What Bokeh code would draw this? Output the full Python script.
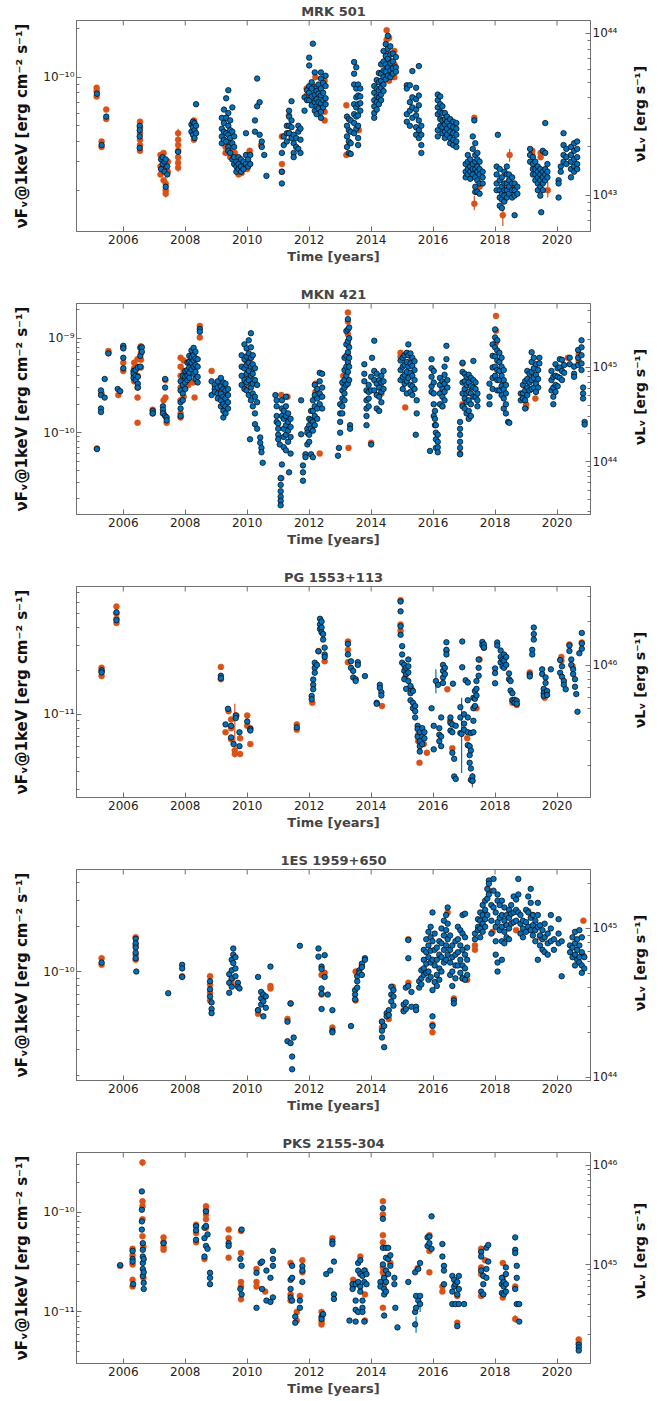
import math

from bokeh.core.properties import value
from bokeh.embed import file_html
from bokeh.layouts import column, row
from bokeh.models import (ColumnDataSource, CustomJSTickFormatter, FixedTicker,
                          LogAxis, LogScale, Range1d)
from bokeh.plotting import figure
from bokeh.resources import INLINE

# ---------------------------------------------------------------------------
# Swift-XRT style light curves: nuF_nu at 1 keV versus time.
# Each list holds (year, [fluxes]) groups; fluxes are in the unit noted.
# ---------------------------------------------------------------------------
YEAR_TICKS = [2006, 2008, 2010, 2012, 2014, 2016, 2018, 2020]
YEAR_RANGE = (2004.49, 2021.08)

# ---- MRK 501, flux in 1e-11 erg cm^-2 s^-1 ----
mrk501_unit = 1e-11
mrk501_blue = [
    (2005.15, [7.9]), (2005.30, [3.8]), (2005.45, [5.7]),
    (2006.53, [5.0, 4.7, 4.3, 3.65]),
    (2007.22, [3.1, 2.7]), (2007.27, [3.2, 2.9]), (2007.33, [3.0, 2.6]),
    (2007.37, [3.1, 2.1]), (2007.42, [2.8, 2.5]), (2007.77, [3.45]),
    (2008.20, [5.1, 4.6]), (2008.25, [5.3, 4.9, 4.4]), (2008.30, [5.2, 4.7, 4.2]),
    (2008.35, [6.8, 5.0, 4.5]),
    (2009.18, [5.6, 4.8, 4.3, 3.9]), (2009.25, [6.3, 5.2, 4.6, 4.1]),
    (2009.32, [7.4, 5.6, 4.5, 4.0]), (2009.39, [8.3, 6.0, 5.0, 4.4, 3.7, 3.5]),
    (2009.45, [5.4, 4.7, 4.2, 3.4]), (2009.52, [6.5, 4.6, 3.9, 3.1]),
    (2009.58, [4.3, 3.7, 3.2, 2.9]), (2009.65, [3.0, 2.8, 2.6]),
    (2009.72, [3.2, 2.9, 2.7]), (2009.80, [3.1, 2.8, 2.6]),
    (2009.88, [3.0, 2.7]), (2009.96, [4.5, 3.3, 2.9]),
    (2010.03, [3.1, 2.8]), (2010.10, [3.3, 2.9]),
    (2010.25, [5.4, 4.6]), (2010.32, [9.8, 6.6]), (2010.40, [7.0, 4.4]),
    (2010.47, [4.0, 3.7]), (2010.55, [3.3]), (2010.62, [2.45]),
    (2011.12, [3.4, 2.6, 2.2]), (2011.18, [4.3, 3.8]),
    (2011.28, [5.0, 4.5, 4.0]), (2011.35, [6.2, 5.7, 5.0, 4.5]),
    (2011.43, [7.1, 5.4, 4.9, 4.2]), (2011.50, [4.4, 3.9, 3.4, 3.2]),
    (2011.58, [4.2, 3.7]), (2011.65, [5.0, 4.6, 3.6]), (2011.72, [4.8, 4.1, 3.4]),
    (2011.85, [6.2, 7.5]), (2011.93, [8.3, 7.2]),
    (2012.00, [13.2, 11.8, 8.8, 8.0, 7.2]), (2012.08, [9.3, 8.5, 7.6, 6.7]),
    (2012.12, [16.1]), (2012.18, [10.7, 7.8, 7.0, 6.2]),
    (2012.24, [8.7, 8.2, 7.3, 6.6, 5.9]), (2012.30, [9.0, 7.9, 7.0, 6.4]),
    (2012.38, [10.7, 9.8, 8.5, 7.7, 6.9, 6.1, 5.6]),
    (2012.45, [9.2, 8.0, 7.2, 6.5]), (2012.53, [10.2, 8.8, 7.4, 6.8]),
    (2013.22, [5.7, 5.0, 4.3, 3.7]), (2013.28, [5.5, 4.7, 4.0, 3.4]),
    (2013.34, [5.4, 4.6, 3.9, 3.35]),
    (2013.45, [12.4, 10.5, 9.0, 6.8, 5.9, 5.2, 4.5]),
    (2013.52, [11.5, 8.5, 7.5, 6.5, 5.7, 4.8]),
    (2013.58, [9.0, 7.7, 6.8, 5.8, 5.0, 4.2, 3.8]),
    (2013.65, [8.5, 7.6, 6.9, 6.2]),
    (2014.10, [8.8, 8.0, 7.2, 6.6, 6.0, 5.6]),
    (2014.18, [9.6, 8.5, 7.6, 7.0, 6.3]),
    (2014.25, [10.6, 9.3, 8.3, 7.5, 6.8]),
    (2014.32, [12.0, 10.5, 9.5, 8.6, 7.8, 7.2]),
    (2014.40, [14.5, 12.5, 11.0, 10.0, 9.0, 8.2]),
    (2014.47, [16.0, 13.5, 12.0, 10.8, 9.7]),
    (2014.54, [18.0, 15.0, 13.0, 11.5, 10.2]),
    (2014.62, [15.5, 13.8, 12.2, 11.0, 10.0]),
    (2014.70, [14.0, 12.5, 11.3, 10.5]),
    (2014.80, [13.3, 11.5, 10.8]),
    (2015.15, [8.9, 8.5, 5.9, 5.3]), (2015.25, [8.9, 7.0, 6.2, 5.0]),
    (2015.33, [10.9, 7.5, 6.5, 5.6]), (2015.45, [8.6, 7.3, 6.3, 5.8, 4.9, 4.4]),
    (2015.54, [11.7, 7.7, 6.7, 5.4, 4.7, 4.2]), (2015.62, [5.0, 4.4, 3.8, 3.4]),
    (2016.15, [7.8, 7.2, 6.5, 5.9, 4.7, 4.3]), (2016.23, [7.6, 6.8, 6.1, 5.5, 5.0]),
    (2016.30, [6.6, 6.0, 5.4, 4.9, 4.5]), (2016.38, [6.0, 5.5, 5.1, 4.6, 4.2]),
    (2016.45, [5.7, 5.3, 4.8, 4.4]), (2016.55, [5.5, 5.0, 4.6, 4.2, 3.9]),
    (2016.65, [5.3, 4.9, 4.5, 4.1, 3.8]), (2016.75, [5.2, 4.8, 4.4, 4.0, 3.7]),
    (2017.05, [2.9, 2.6, 2.4]), (2017.12, [3.3, 3.0, 2.7, 2.5]),
    (2017.20, [3.1, 2.8, 2.6, 2.35]), (2017.28, [4.3, 3.6, 2.9, 2.7, 2.5]),
    (2017.33, [5.4]), (2017.36, [3.9, 3.3, 3.0, 2.7, 2.4, 2.1, 1.95]),
    (2017.43, [3.4, 3.1, 2.8, 2.6, 2.3, 1.95]), (2017.50, [3.0, 2.7, 2.5, 2.2, 1.9]),
    (2017.60, [2.6, 2.4, 2.2]),
    (2018.05, [2.8, 2.5, 2.2, 2.0]), (2018.09, [4.4]),
    (2018.15, [2.7, 2.3, 2.0, 1.8, 1.6]), (2018.22, [2.4, 2.1, 1.9, 1.75, 1.55]),
    (2018.30, [2.6, 2.2, 2.0, 1.85, 1.7]), (2018.38, [2.8, 2.5, 2.2, 2.0, 1.8]),
    (2018.45, [2.5, 2.3, 2.1, 1.9]), (2018.55, [2.4, 2.2, 2.0, 1.8]),
    (2018.63, [2.2, 2.0, 1.85, 1.4]), (2018.72, [2.1, 1.9]),
    (2019.13, [3.6, 3.3, 3.0]), (2019.22, [3.2, 2.9, 2.7, 2.5]),
    (2019.30, [3.0, 2.7, 2.5, 2.3]), (2019.38, [2.8, 2.6, 2.4, 2.2, 2.0]),
    (2019.46, [2.7, 2.5, 2.3, 2.1, 1.85]), (2019.49, [1.46]),
    (2019.54, [3.5, 2.6, 2.4, 2.2, 2.0]), (2019.62, [5.2, 3.4, 2.7, 2.5, 2.3]),
    (2019.69, [2.9, 2.6, 2.4]),
    (2020.05, [2.3, 2.2, 1.8]), (2020.12, [2.8, 2.6]),
    (2020.21, [4.5, 3.8, 3.3, 3.0]), (2020.30, [3.6, 3.2, 2.9]),
    (2020.45, [3.7, 3.3, 3.0, 2.7, 2.4]), (2020.55, [3.9, 3.5, 3.1, 2.8, 2.6]),
    (2020.65, [4.0, 3.6, 3.2, 2.9, 2.7]),
]
mrk501_orange = [
    (2005.14, [8.6, 8.2, 7.6]), (2005.30, [4.0, 3.7]), (2005.45, [6.3, 5.5]),
    (2006.54, [5.3, 4.9, 4.5, 4.1, 3.8, 3.5]),
    (2007.20, [3.3, 2.8, 2.5]), (2007.30, [3.4, 3.0, 2.7, 2.3]),
    (2007.37, [2.0, 1.9, 2.2]), (2007.44, [3.0, 2.6]),
    (2007.77, [4.5, 4.1, 3.8, 3.5, 3.2, 2.95, 2.75]),
    (2008.28, [5.4, 4.4, 4.1]),
    (2009.30, [4.0, 3.7, 3.4]), (2009.45, [3.9, 3.5, 3.2]), (2009.60, [3.4, 3.1, 2.9]),
    (2009.72, [2.6, 2.5]), (2009.82, [2.8, 2.55]), (2010.00, [3.3, 3.0, 2.7]),
    (2010.08, [3.5]), (2010.45, [3.8]),
    (2011.12, [4.3, 2.9, 2.6]), (2011.35, [5.8, 4.5]),
    (2011.92, [8.5, 7.7]), (2012.10, [8.9, 7.4]), (2012.20, [10.0, 8.2]),
    (2012.35, [6.5]), (2012.50, [9.5, 6.1, 5.4]),
    (2013.20, [6.7, 3.3]), (2013.60, [4.7]), (2014.20, [7.0]),
    (2014.50, [19.5, 17.0, 14.0, 11.5]), (2014.58, [17.5, 12.8, 9.5]),
    (2014.75, [14.5, 12.0, 10.0]),
    (2016.50, [5.0, 4.3]), (2016.70, [4.0, 3.9]),
    (2017.33, [5.6, 1.65]), (2017.50, [2.1]),
    (2018.25, [1.4, 2.0]), (2018.47, [3.3]), (2018.65, [2.1]),
    (2019.20, [3.3, 3.5]), (2019.47, [3.4, 3.2]), (2019.55, [2.3]), (2019.70, [2.0]),
]
mrk501_orange_bars = [(2018.25, 1.2, 1.65), (2007.37, 1.8, 2.4), (2017.33, 1.5, 1.85),
                      (2007.77, 2.6, 4.8), (2018.47, 3.0, 3.6), (2019.70, 1.8, 2.25)]

# ---- MKN 421, flux in 1e-10 erg cm^-2 s^-1 ----
mkn421_unit = 1e-10
mkn421_blue = [
    (2005.15, [0.67]), (2005.28, [2.8, 2.5, 1.8, 1.65]), (2005.40, [3.7, 2.35]),
    (2005.52, [6.9]), (2005.82, [2.9]), (2005.90, [2.75]),
    (2006.00, [8.3, 7.8, 6.2, 4.8]), (2006.33, [4.5, 4.2, 3.8]),
    (2006.40, [4.6, 4.0, 3.6]), (2006.47, [4.9, 3.9, 3.3, 3.0]),
    (2006.55, [7.9, 6.5, 5.0]), (2006.60, [8.0, 7.2]),
    (2006.95, [1.7, 1.6]), (2007.28, [1.9, 1.75, 1.6]), (2007.35, [3.7, 3.0, 1.5]),
    (2007.40, [1.45, 1.35]),
    (2007.85, [3.5, 2.8, 2.1, 1.8, 1.5]), (2007.92, [4.0, 3.2, 2.6, 2.2]),
    (2008.00, [4.5, 3.9, 3.4, 2.9]), (2008.07, [5.5, 4.6, 4.0, 3.6]),
    (2008.13, [6.5, 5.6, 4.9, 4.3, 3.8]), (2008.20, [7.4, 6.3, 5.5, 4.7]),
    (2008.27, [7.9, 6.6, 5.8, 5.0, 4.2]), (2008.33, [7.2, 6.1, 5.2, 4.4, 3.7]),
    (2008.40, [6.0, 5.0, 3.9, 3.4]), (2008.47, [12.5, 11.7]),
    (2008.85, [3.5, 2.5]), (2008.95, [3.2, 2.9, 2.7]), (2009.05, [3.5, 3.0, 2.6, 2.3]),
    (2009.15, [3.8, 3.1, 2.6, 2.2, 1.9]), (2009.23, [3.4, 2.9, 2.4, 2.0, 1.7, 1.45]),
    (2009.30, [3.3, 2.8, 2.3, 1.9, 1.6]), (2009.38, [2.9, 2.5, 2.1, 1.8]),
    (2009.82, [6.6, 5.0, 4.0, 3.2]), (2009.91, [8.6, 6.0, 4.8, 3.6, 2.9]),
    (2009.98, [7.8, 6.4, 5.2, 4.2, 3.4, 2.8]), (2010.05, [9.5, 6.9, 5.5, 4.5, 3.6, 2.5]),
    (2010.09, [0.85]), (2010.12, [11.3, 8.0, 6.2, 5.0, 4.0, 3.0, 2.2]),
    (2010.18, [6.6, 5.3, 4.2, 3.3, 2.6, 1.9]), (2010.25, [4.8, 3.6, 2.4, 1.6, 1.23]),
    (2010.32, [3.2, 2.1, 1.1]), (2010.42, [0.89, 0.78]), (2010.46, [0.69, 0.62]),
    (2010.50, [0.48]),
    (2010.91, [2.5]), (2010.95, [2.2, 1.9, 1.5, 1.3]), (2011.00, [1.25, 1.1, 0.95, 0.85]),
    (2011.05, [0.75]), (2011.08, [0.33, 0.28, 0.24, 0.21, 0.19, 0.17]),
    (2011.12, [2.2, 1.8, 1.5, 0.46]), (2011.18, [1.7, 1.4, 1.1, 0.9, 0.7]),
    (2011.25, [2.4, 1.9, 1.5, 1.2, 0.95, 0.65]), (2011.32, [1.6, 1.3, 1.05, 0.8]),
    (2011.35, [0.38]), (2011.40, [1.4, 1.15, 0.9, 0.6]),
    (2011.74, [2.2, 0.96]), (2011.80, [0.45, 0.38, 0.31]), (2011.88, [0.59, 0.55]),
    (2011.94, [0.75, 1.1, 1.0]), (2012.00, [1.4, 1.2, 0.95, 0.8]),
    (2012.06, [1.7, 1.35, 1.1, 0.59]), (2012.12, [2.2, 1.7, 1.3, 1.05, 0.55]),
    (2012.18, [3.2, 2.5, 1.9, 1.5, 1.2]), (2012.26, [2.9, 2.3, 1.8, 1.4]),
    (2012.34, [4.3, 3.5, 2.6, 2.0]), (2012.42, [4.2, 3.0, 2.4, 1.8]),
    (2012.93, [0.57]), (2012.96, [0.69]), (2013.00, [2.0, 1.6, 1.3, 1.0]),
    (2013.07, [3.4, 2.8, 2.3, 1.9, 1.6]), (2013.14, [6.2, 4.6, 3.6, 3.0, 2.6, 2.2]),
    (2013.20, [11.9, 8.6, 6.5, 5.0, 4.0, 3.2]), (2013.25, [15.9, 12.4, 9.3, 7.1, 5.6, 4.4, 3.3]),
    (2013.29, [13.0, 10.0, 8.0, 6.2, 5.0, 3.6]), (2013.32, [1.2, 1.1]),
    (2013.78, [5.3, 4.2, 3.5]), (2013.85, [2.8, 2.2, 1.8, 1.5, 1.2]),
    (2013.92, [3.2, 2.7, 2.3, 1.9]), (2014.00, [3.9, 2.8, 0.75]),
    (2014.03, [6.2]), (2014.10, [9.4, 4.5, 3.6, 2.8]),
    (2014.18, [4.2, 3.3, 2.5, 1.8]), (2014.26, [3.6, 3.0, 2.4, 1.7]),
    (2014.33, [4.0, 3.4, 2.7, 2.1]), (2014.40, [4.5, 3.5, 2.9]),
    (2014.95, [5.8, 4.6, 3.6]), (2015.02, [6.2, 5.0, 3.9, 2.9]),
    (2015.08, [6.6, 5.2, 4.1, 3.3]), (2015.15, [7.0, 5.6, 4.4, 3.5, 2.6]),
    (2015.20, [8.6, 6.6, 5.0, 3.8]), (2015.27, [6.9, 5.4, 4.3, 3.2, 2.7]),
    (2015.33, [6.2, 5.1, 4.0, 3.1, 2.5]), (2015.40, [5.7, 4.6, 3.6, 2.9]),
    (2015.44, [0.95]), (2015.47, [1.6, 2.2]),
    (2015.90, [0.64]), (2015.95, [6.0, 4.8, 3.9, 3.1, 2.7]),
    (2016.02, [4.5, 3.4, 2.6, 2.0, 1.5]), (2016.06, [1.7, 1.4, 1.2]),
    (2016.09, [1.2, 1.0, 0.85, 0.69]), (2016.15, [0.95, 0.8, 0.7, 0.62]),
    (2016.22, [3.8, 3.2, 2.6, 2.0]), (2016.30, [3.5, 2.9, 2.4, 1.9]),
    (2016.37, [5.0, 4.1, 3.3, 2.7, 2.2]), (2016.43, [8.3, 6.0]), (2016.46, [3.6, 3.0]),
    (2016.87, [1.3, 1.1, 0.95, 0.8, 0.69, 0.59]), (2016.95, [5.5, 4.4, 3.4, 2.6, 1.9]),
    (2017.02, [4.2, 3.5, 2.9, 2.3, 1.8]), (2017.08, [3.9, 3.2, 2.6, 2.1, 1.6]),
    (2017.15, [4.1, 3.4, 2.7, 2.2, 1.7, 1.4]), (2017.22, [3.8, 3.1, 2.6, 2.0, 1.5]),
    (2017.30, [5.75, 3.6, 3.0, 2.4]), (2017.37, [3.4, 2.9, 2.4]), (2017.43, [2.6, 2.2, 1.9]),
    (2017.82, [3.3, 2.4, 2.0]), (2017.92, [8.6, 6.5, 4.9, 3.8, 2.9]),
    (2018.00, [12.4, 10.2, 8.0, 6.4, 5.0, 4.0]), (2018.07, [9.5, 7.4, 5.8, 4.6, 3.6, 2.8]),
    (2018.14, [7.0, 5.6, 4.5, 3.6, 2.8]), (2018.21, [6.2, 5.0, 4.0, 3.1, 2.5]),
    (2018.28, [4.6, 3.6, 2.9, 2.3, 1.8]), (2018.35, [3.2, 2.6, 2.0, 1.6]),
    (2018.42, [1.3]), (2018.46, [1.27]),
    (2018.83, [2.6, 2.2]), (2018.90, [3.2, 2.6, 2.3]), (2018.97, [3.5, 2.8, 2.2, 1.8]),
    (2019.04, [4.5, 3.7, 3.0, 2.5]), (2019.11, [4.2, 3.4, 2.8]),
    (2019.18, [7.1, 5.6, 4.4, 3.6, 2.9]), (2019.25, [6.2, 4.8, 3.8, 3.0]),
    (2019.32, [5.3, 4.1, 3.3, 2.7]), (2019.39, [4.6, 3.7, 3.0]), (2019.43, [6.2, 5.4]),
    (2019.82, [4.5, 3.6, 2.8]), (2019.88, [3.9, 3.0, 2.4, 2.0]),
    (2019.95, [5.3, 4.0, 3.2, 2.7]), (2020.02, [4.8, 3.9, 3.1]),
    (2020.09, [6.0, 4.9, 3.8]), (2020.16, [5.9, 4.5, 3.6]), (2020.23, [5.2, 4.3]),
    (2020.41, [6.2, 5.3]), (2020.55, [5.0, 4.2, 3.9]), (2020.68, [7.5, 6.2, 5.2]),
    (2020.79, [9.5, 8.0, 6.6, 5.4, 4.6]), (2020.84, [3.0, 2.6, 2.3]), (2020.89, [1.3, 1.22]),
]
mkn421_orange = [
    (2005.15, [0.68]), (2005.30, [2.6]), (2005.52, [7.3, 7.0]),
    (2005.84, [2.5]), (2006.00, [8.0, 5.5, 4.5]),
    (2006.35, [5.5, 4.8, 4.0, 3.5]), (2006.46, [6.0, 5.0, 4.0, 3.0, 2.35, 1.27]),
    (2006.57, [8.2, 7.0, 5.9, 4.9]), (2006.95, [1.75, 1.6]), (2007.30, [2.2, 1.6]),
    (2007.36, [3.6, 2.35]), (2007.40, [1.27]),
    (2007.85, [6.2, 5.0, 4.0, 3.0, 2.2, 1.6, 1.45]), (2007.95, [5.8, 4.5, 3.5, 2.4]),
    (2008.10, [5.6, 4.4, 3.2]), (2008.25, [6.2, 4.6, 3.4]), (2008.30, [2.35]),
    (2008.47, [13.5, 10.2]),
    (2008.85, [4.5]), (2009.05, [3.2, 2.8]), (2009.25, [2.5, 2.2]),
    (2009.95, [5.8, 4.8, 3.9, 3.2]), (2010.12, [6.2, 4.5, 3.3]),
    (2011.10, [2.5, 0.33]), (2011.30, [2.4]),
    (2012.20, [3.3, 2.7]), (2012.34, [2.4, 0.6]),
    (2013.10, [4.0, 3.3]), (2013.25, [18.7, 15.0, 11.0, 8.5, 6.5, 5.0]),
    (2013.27, [0.69]), (2014.00, [0.78]), (2014.33, [3.0, 2.6]),
    (2014.95, [7.0, 6.4]), (2015.10, [1.85]), (2015.30, [5.9]),
    (2016.30, [2.7, 1.9]), (2016.87, [0.6]), (2016.95, [5.4, 2.0]),
    (2018.03, [17.2, 12.0, 9.0]), (2018.25, [3.2]),
    (2019.00, [1.85, 2.0]), (2019.30, [2.3]), (2020.35, [6.2]), (2020.70, [6.8, 5.7]),
]

# ---- PG 1553+113, flux in 1e-12 erg cm^-2 s^-1 ----
pg1553_unit = 1e-12
pg1553_blue = [
    (2005.30, [20.2, 19.5]), (2005.78, [51.0, 45.0]),
    (2009.15, [18.5, 17.8]), (2009.30, [8.5]), (2009.38, [10.9]),
    (2009.48, [8.3, 6.9]), (2009.56, [6.2]), (2009.63, [9.8, 9.4]),
    (2009.75, [7.5, 6.0]), (2010.00, [8.9]), (2010.10, [7.9, 7.7]),
    (2011.60, [8.1]),
    (2012.08, [13.4, 12.7]), (2012.13, [17.4, 16.0, 14.9]), (2012.18, [22.8, 21.0, 19.4]),
    (2012.25, [22.0]), (2012.30, [27.4]), (2012.35, [46.0, 42.0, 39.0]),
    (2012.40, [44.0, 40.0, 37.0]), (2012.45, [36.0, 33.0]), (2012.50, [29.0, 26.0, 25.0]),
    (2013.25, [30.8, 26.0]), (2013.35, [23.3, 21.0]), (2013.42, [20.0, 18.0]),
    (2013.50, [17.5, 17.0]), (2013.57, [23.0, 22.0]), (2013.80, [18.4]),
    (2014.18, [12.0, 11.8]), (2014.28, [16.0, 15.2]), (2014.33, [14.2, 13.5]),
    (2014.95, [60.6, 51.8, 40.8, 35.6]), (2015.00, [29.7, 26.0, 22.8]),
    (2015.07, [22.0, 20.0, 17.5]), (2015.13, [21.0, 19.0, 15.0]),
    (2015.20, [24.0, 21.5, 19.5, 17.0]), (2015.27, [15.7, 14.0, 12.5]),
    (2015.35, [14.5, 12.0, 11.0]), (2015.42, [11.4, 10.5, 9.5]),
    (2015.50, [8.3, 7.9, 7.0]), (2015.57, [7.5, 6.5, 6.0, 5.5]),
    (2015.65, [8.0, 7.0, 6.2]), (2015.72, [7.5, 6.8]),
    (2015.95, [11.0]), (2016.02, [8.3, 5.7]), (2016.09, [17.0]), (2016.16, [16.0]),
    (2016.20, [8.0, 7.2, 6.5]), (2016.26, [9.5, 7.0, 6.0]),
    (2016.32, [22.0, 20.0, 18.0, 16.5]), (2016.38, [21.0, 19.0]),
    (2016.43, [31.6, 28.0, 26.0]), (2016.56, [9.5, 8.7, 7.7]),
    (2016.62, [8.5, 7.5, 5.4]), (2016.64, [16.3]), (2016.68, [4.9, 3.7]),
    (2016.73, [8.3, 3.55]),
    (2016.88, [11.2, 9.5, 7.4]), (2016.92, [7.3]), (2016.94, [32.0, 21.2]),
    (2017.00, [10.0, 8.6, 7.8]), (2017.05, [17.2]), (2017.12, [16.6, 12.5, 9.5, 7.5, 6.1]),
    (2017.18, [6.0, 5.2, 4.6]), (2017.22, [7.4, 5.6, 4.2, 3.5]), (2017.27, [3.7, 3.45]),
    (2017.30, [13.0, 11.0, 9.0, 7.5]), (2017.35, [14.5, 12.8, 11.4]),
    (2017.40, [17.0, 15.0, 13.5]), (2017.47, [24.0, 21.0, 18.5]),
    (2017.59, [31.8, 30.2]), (2017.64, [30.5, 29.0]),
    (2018.00, [20.8, 19.3, 16.4]), (2018.07, [31.5, 30.0]),
    (2018.18, [27.7, 25.0, 22.9]), (2018.24, [24.0, 21.5]), (2018.29, [26.0, 23.5, 21.0]),
    (2018.36, [25.0, 22.0]), (2018.45, [19.2, 17.5]), (2018.50, [17.0, 14.6]),
    (2018.56, [14.0, 12.5]), (2018.63, [12.6, 12.0]), (2018.70, [12.4, 11.8]),
    (2019.12, [18.9, 18.3]), (2019.20, [28.0, 26.0]), (2019.25, [40.0, 36.0, 33.0]),
    (2019.52, [20.5, 19.0]), (2019.57, [15.0, 14.0, 13.4]), (2019.63, [18.0, 16.5]),
    (2019.68, [14.5, 13.6]), (2019.80, [20.5]),
    (2020.10, [23.8, 19.4]), (2020.16, [21.5, 18.2]), (2020.22, [17.0, 16.0]),
    (2020.28, [14.9]), (2020.40, [30.0, 27.5]), (2020.46, [24.0, 22.0]),
    (2020.52, [20.5, 19.0]), (2020.58, [17.5, 15.5]), (2020.62, [13.8]),
    (2020.66, [10.4]), (2020.72, [26.5]), (2020.80, [36.7, 31.0, 28.5]),
]
pg1553_orange = [
    (2005.30, [21.0, 19.8, 18.4]), (2005.78, [56.0, 50.0, 46.0, 43.0]),
    (2009.15, [21.3, 17.5]), (2009.30, [7.5]), (2009.40, [10.5]),
    (2009.48, [9.2, 8.0, 6.7]), (2009.60, [5.6, 5.3]), (2009.65, [9.8]),
    (2009.77, [6.8, 5.3]), (2010.00, [9.8, 8.3]), (2010.10, [8.0, 6.2]),
    (2011.60, [8.5, 7.8]), (2012.10, [12.0]), (2012.30, [27.4]), (2012.50, [23.3]),
    (2013.25, [32.0, 28.0, 23.0]), (2014.35, [11.4]),
    (2014.95, [62.0, 42.0, 38.0]), (2015.10, [21.0, 18.0]), (2015.30, [15.0]),
    (2015.52, [7.2, 6.5]), (2015.56, [4.6]), (2015.70, [6.2]), (2015.80, [5.4]),
    (2016.43, [27.6]), (2016.46, [14.9]), (2016.55, [9.0]), (2016.62, [5.8]),
    (2017.10, [6.8]), (2017.27, [3.45]), (2017.40, [11.0]), (2017.50, [24.0]),
    (2017.64, [29.0]), (2018.29, [24.0]), (2018.56, [12.5, 12.0]), (2018.70, [11.6]),
    (2019.12, [19.5]), (2019.60, [13.4, 13.0]), (2020.14, [25.0, 23.5]),
    (2020.40, [30.5]), (2020.50, [21.5]), (2020.80, [31.5]),
]
pg1553_blue_bars = [(2016.09, 14.0, 20.5), (2016.92, 3.9, 13.0), (2017.27, 3.2, 3.9)]
pg1553_orange_bars = [(2009.60, 5.0, 11.8), (2017.27, 3.1, 3.6)]

# ---- 1ES 1959+650, flux in 1e-11 erg cm^-2 s^-1 ----
es1959_unit = 1e-11
es1959_blue = [
    (2005.30, [11.5]), (2006.40, [16.6, 15.5, 14.5, 13.4, 12.3]), (2006.42, [10.0]),
    (2007.45, [7.15]), (2007.90, [11.1, 10.5, 9.2]),
    (2008.80, [8.6, 7.6, 6.8]), (2008.85, [6.2, 5.6, 5.25]),
    (2009.42, [9.6, 8.4, 7.2]), (2009.50, [12.0, 10.2, 9.0, 7.9]),
    (2009.55, [14.3, 13.0, 11.4]), (2009.62, [12.5, 10.5, 9.3]),
    (2009.70, [8.4, 7.9]), (2009.75, [7.7]),
    (2010.35, [9.2, 5.5]), (2010.45, [7.3, 6.6, 6.0]), (2010.52, [7.0, 6.3, 5.0]),
    (2010.60, [6.8, 5.7]), (2010.75, [10.8]),
    (2011.30, [4.6, 3.4]), (2011.40, [6.1, 3.3]), (2011.45, [2.68, 2.2]),
    (2011.50, [3.6]), (2011.70, [14.9]),
    (2012.30, [14.3, 12.6]), (2012.40, [10.8, 10.4, 7.7, 7.1, 5.6]),
    (2012.50, [12.9, 9.2]), (2012.60, [7.0]), (2012.75, [5.5, 4.0, 3.9]),
    (2013.35, [4.3]), (2013.48, [7.5, 7.0, 6.5]), (2013.55, [9.3, 8.6, 7.8]),
    (2013.62, [10.2, 9.8]), (2013.70, [11.3, 10.7, 9.5]), (2013.80, [12.3, 12.0]),
    (2014.35, [4.6, 4.0, 3.6]), (2014.42, [3.1, 4.3]), (2014.50, [5.25, 5.0]),
    (2014.57, [5.5, 5.1]), (2014.65, [7.9, 7.0, 6.3]), (2014.72, [7.5, 6.8, 5.9]),
    (2015.05, [6.0, 5.4]), (2015.12, [7.8, 6.2, 5.6]), (2015.20, [16.3, 12.3, 8.0]),
    (2015.30, [7.3, 5.8]), (2015.45, [5.8, 5.5]), (2015.55, [7.8, 8.6]),
    (2015.62, [10.2, 9.0, 8.2]), (2015.70, [14.0, 12.0, 10.5, 9.5]),
    (2015.78, [16.5, 13.5, 11.3, 9.8]), (2015.85, [18.5, 15.0, 12.5, 10.0, 8.8]),
    (2015.92, [20.0, 17.0, 13.8, 11.5, 9.2]), (2015.98, [25.0, 16.0, 12.0, 7.5, 5.0, 4.3]),
    (2016.05, [18.0, 14.0, 11.0, 8.5]), (2016.12, [14.5, 12.0, 9.5, 8.0]),
    (2016.20, [16.0, 13.0, 10.5, 8.8]), (2016.27, [19.5, 15.5, 12.5, 10.0]),
    (2016.35, [22.0, 17.5, 14.0, 11.5]), (2016.42, [24.0, 19.0, 15.0, 12.0]),
    (2016.47, [27.0, 21.0, 16.5, 13.0]), (2016.55, [17.5, 14.0, 11.5, 9.5]),
    (2016.62, [15.0, 12.5, 10.0, 8.0]), (2016.67, [6.4, 6.1]),
    (2016.72, [16.0, 13.0, 11.0, 9.0]), (2016.80, [20.0, 16.5, 13.5, 11.0]),
    (2016.88, [19.0, 15.0, 12.0, 9.8]), (2016.95, [24.0, 18.0, 14.0, 11.0, 9.0]),
    (2017.03, [24.5, 17.0, 13.0, 10.5, 8.8]), (2017.10, [14.5, 12.0, 9.5]),
    (2017.35, [16.5, 18.0]), (2017.45, [20.0, 22.5, 19.0]),
    (2017.52, [25.0, 22.0, 19.5, 17.0]), (2017.60, [28.0, 24.0, 21.0, 18.5]),
    (2017.68, [30.0, 26.0, 22.5, 20.0]), (2017.75, [36.0, 31.0, 24.0]),
    (2017.80, [41.0, 39.0, 33.0]), (2017.88, [28.0, 22.0, 18.0]),
    (2017.95, [42.0, 35.0, 27.0]), (2018.02, [25.0, 20.0, 16.0, 13.0]),
    (2018.08, [33.0, 30.0, 21.5, 11.5, 10.0]), (2018.15, [28.0, 23.0, 19.0]),
    (2018.22, [30.0, 24.0, 20.0, 16.0, 12.0]), (2018.30, [27.0, 22.0, 18.5, 15.5]),
    (2018.37, [24.0, 20.5, 17.0]), (2018.45, [26.0, 23.0, 19.5, 16.5]),
    (2018.52, [28.0, 24.5, 21.0]), (2018.60, [32.0, 25.0, 21.5]),
    (2018.68, [30.5, 26.0, 22.0]), (2018.75, [42.0, 33.0, 25.0]),
    (2018.82, [24.0, 21.0, 18.0]), (2018.90, [22.0, 19.5, 17.0]),
    (2019.00, [26.0, 21.5, 18.5]), (2019.07, [32.0, 25.0, 20.0]),
    (2019.15, [36.0, 29.0, 23.0, 19.0]), (2019.22, [24.0, 20.5, 17.5]),
    (2019.30, [22.0, 19.0, 16.0]), (2019.38, [29.0, 24.0, 20.0, 12.0]),
    (2019.45, [20.5, 17.5, 15.0]), (2019.53, [19.0, 16.5, 14.0]),
    (2019.60, [21.0, 17.0, 13.5]), (2019.70, [18.0, 15.5, 13.0]),
    (2019.80, [24.0, 19.5, 16.0]), (2019.90, [16.5, 14.0]),
    (2020.05, [22.5, 18.0, 15.5]), (2020.15, [16.0, 9.3]),
    (2020.42, [15.0, 13.5]), (2020.50, [17.0, 14.5, 12.5]),
    (2020.58, [18.5, 15.5, 13.0, 11.0]), (2020.65, [16.5, 14.0, 12.0]),
    (2020.72, [19.0, 15.0, 12.5, 11.5]), (2020.80, [17.0, 13.5, 11.0, 9.8]),
    (2020.88, [12.5, 10.5]),
]
es1959_orange = [
    (2005.30, [12.3, 11.1]), (2006.40, [17.0, 15.0, 13.0, 12.0]), (2007.90, [9.3]),
    (2008.80, [9.3, 8.2, 7.2, 6.4]), (2009.50, [8.8, 8.2]), (2010.35, [5.5, 5.2]),
    (2010.75, [8.0, 7.7]), (2011.30, [4.8]), (2011.40, [6.1]),
    (2012.40, [9.5, 7.0]), (2012.50, [9.8]), (2012.75, [4.2]), (2013.50, [6.4, 10.0]),
    (2013.70, [10.9]), (2014.35, [4.6, 4.2]), (2014.57, [4.8]), (2014.70, [7.9]),
    (2015.05, [5.5]), (2015.20, [16.5, 8.4]), (2015.98, [3.9, 4.4]),
    (2016.47, [25.0]), (2016.67, [6.6]), (2016.95, [9.0]), (2017.10, [8.8]),
    (2017.35, [15.0, 14.0]), (2017.80, [35.0]), (2017.92, [18.5]),
    (2018.68, [19.0]), (2019.07, [25.5]), (2019.22, [24.0]), (2019.45, [17.0]),
    (2020.85, [22.0, 12.8]),
]

# ---- PKS 2155-304, flux in 1e-11 erg cm^-2 s^-1 ----
pks2155_unit = 1e-11
pks2155_blue = [
    (2005.90, [2.95]), (2006.30, [4.1, 3.4, 3.2]), (2006.32, [1.9]),
    (2006.60, [16.2, 10.6, 8.1, 6.7]), (2006.63, [4.9, 4.2, 3.6, 3.1, 2.7, 2.3]),
    (2006.66, [1.96, 1.7, 3.4, 2.5]),
    (2007.30, [4.9]), (2008.35, [7.25, 6.6, 5.3]),
    (2008.62, [7.0, 5.5, 3.6]), (2008.67, [10.2, 7.3, 4.6]), (2008.72, [4.3, 6.0]),
    (2008.80, [2.47, 2.2, 1.9]),
    (2009.40, [4.9, 4.6]), (2009.78, [3.4, 1.7]), (2009.82, [6.7, 2.9, 1.5]),
    (2010.30, [2.47, 1.1]), (2010.43, [3.1]), (2010.48, [3.2, 1.7]),
    (2010.62, [2.6, 1.3]), (2010.75, [2.2, 1.26]), (2010.83, [4.1, 3.4, 2.9, 1.4]),
    (2011.40, [2.1, 1.7, 1.4]), (2011.45, [2.9, 2.2, 1.3]), (2011.55, [0.9, 0.78]),
    (2011.70, [1.3, 1.1]), (2011.78, [2.88, 2.6, 2.0]),
    (2012.40, [0.9, 0.85]), (2012.45, [0.95]), (2012.55, [2.4]), (2012.68, [2.6]),
    (2012.75, [5.1, 4.8]), (2012.80, [3.2, 1.5, 1.35]),
    (2013.30, [0.82]), (2013.40, [1.7, 1.9]), (2013.50, [1.9, 1.3, 1.05, 0.8]),
    (2013.58, [2.6, 3.1, 2.0, 1.0]), (2013.65, [3.3, 2.4, 1.8, 1.6]),
    (2013.72, [2.3, 1.3, 1.1, 1.0]), (2013.78, [2.6, 2.0, 0.8]), (2013.85, [2.4, 1.9]),
    (2014.30, [2.0, 1.8]), (2014.38, [11.0, 8.6, 4.4, 3.0]),
    (2014.42, [2.2, 1.7, 1.5, 0.92]), (2014.48, [4.4, 3.5, 2.6, 2.0, 1.6]),
    (2014.55, [4.4, 3.4, 2.4]), (2014.62, [3.7, 2.9]), (2014.75, [2.2, 1.9]),
    (2014.78, [1.1]), (2014.85, [0.7]),
    (2015.20, [2.0]), (2015.42, [2.5, 1.0, 0.75]), (2015.45, [1.45, 1.1]),
    (2015.52, [2.7, 1.3]), (2015.58, [3.1, 1.45, 1.2]),
    (2015.82, [4.6, 5.6]), (2015.88, [4.9, 5.7]), (2015.95, [9.1, 4.3]),
    (2016.30, [4.8, 3.6]), (2016.35, [2.9, 2.6, 1.9]),
    (2016.62, [1.6, 2.3, 1.2]), (2016.68, [2.1, 1.8]), (2016.72, [1.2, 1.9]),
    (2016.78, [2.0, 1.5, 0.72]), (2016.83, [2.3, 1.7, 1.2]), (2017.00, [1.2]),
    (2017.55, [4.0, 3.6, 2.6, 1.6]), (2017.62, [2.3, 1.9, 1.5]),
    (2017.72, [2.7, 2.2, 4.4]), (2017.78, [4.7, 3.2]),
    (2018.22, [2.2, 1.9, 1.55]), (2018.28, [2.0, 1.8, 1.5]),
    (2018.35, [2.8, 2.4, 1.9, 1.6]),
    (2018.65, [5.6, 4.2, 3.9, 1.7]), (2018.70, [2.9, 2.2, 1.2]),
    (2018.78, [1.2, 0.8]),
    (2020.70, [0.47, 0.44, 0.41]),
]
pks2155_orange = [
    (2005.90, [2.9]), (2006.30, [4.3, 3.7, 3.0, 2.1, 1.8]),
    (2006.62, [31.6, 12.9, 11.5, 8.5, 5.75]), (2006.65, [4.5, 2.2]),
    (2007.30, [5.6, 5.0, 4.5, 4.2]), (2008.35, [7.5, 6.2, 5.0]),
    (2008.67, [11.5, 10.5, 9.5, 8.5, 7.0]), (2008.62, [3.4]),
    (2009.40, [6.7, 5.5, 3.5]), (2009.80, [6.5, 3.9, 2.0, 1.8, 1.34]),
    (2010.30, [2.7, 2.0, 1.8]), (2010.58, [1.6]),
    (2011.40, [3.1, 1.5, 1.3]), (2011.60, [1.0, 0.82]), (2011.78, [3.3, 2.5]),
    (2011.70, [1.45]), (2012.40, [1.0, 0.8, 0.75]), (2012.75, [5.5]),
    (2013.42, [2.1, 1.8]), (2013.65, [3.6]), (2013.80, [2.6, 1.5, 0.82]),
    (2014.38, [12.9, 9.5, 5.9, 5.0, 2.8, 2.5, 1.1]), (2014.42, [2.3, 2.0, 1.9]),
    (2014.62, [3.1]), (2015.50, [2.75]), (2015.88, [5.9, 4.1, 2.5]),
    (2016.30, [1.8, 1.6]), (2016.78, [0.78, 1.45]),
    (2017.55, [4.3, 2.8, 2.4, 1.45]), (2017.68, [3.3]),
    (2018.25, [3.1, 2.2, 1.4]), (2018.65, [1.8, 0.85]),
    (2020.70, [0.53, 0.49]),
]
pks2155_blue_bars = [(2015.45, 0.62, 0.9), (2015.58, 1.0, 1.5)]
pks2155_orange_bars = [(2018.65, 0.78, 0.93), (2006.62, 29.0, 34.0)]

ORANGE = "#D95319"
BLUE = "#0072BD"
FRAME = "#707070"
FONT = "DejaVu Sans"
MAIN_WIDTH = 625      # plot with both flux and luminosity axes
SIDE_WIDTH = 38       # strip holding the luminosity axis title
BORDER_TOP = 20
FRAME_HEIGHT = 211
LEFT_LABEL = "\u03bdF\u1d65@1keV [erg cm\u207b\u00b2 s\u207b\u00b9]"
RIGHT_LABEL = "\u03bdL\u1d65 [erg s\u207b\u00b9]"

# 10^n labels with superscript exponents
SUP_FORMATTER = """
const sup = {"-": "\u207b", "0": "\u2070", "1": "\u00b9", "2": "\u00b2", "3": "\u00b3",
             "4": "\u2074", "5": "\u2075", "6": "\u2076", "7": "\u2077", "8": "\u2078",
             "9": "\u2079"};
const e = Math.round(Math.log10(tick));
return "10" + String(e).split("").map(c => sup[c]).join("");
"""


def expand(groups, unit):
    ts, fs = [], []
    for year, vals in groups:
        for v in vals:
            ts.append(year)
            fs.append(v * unit)
    return ts, fs


def minor_ticks(lo, hi):
    out = []
    for e in range(math.floor(math.log10(lo)) - 1, math.ceil(math.log10(hi)) + 1):
        for m in range(2, 10):
            v = m * 10.0 ** e
            if lo <= v <= hi:
                out.append(v)
    return out


def decade_ticks(lo, hi):
    return [10.0 ** e for e in range(math.ceil(math.log10(lo)), math.floor(math.log10(hi)) + 1)]


def style_y_axis(ax):
    ax.axis_line_color = FRAME
    ax.major_tick_line_color = FRAME
    ax.minor_tick_line_color = FRAME
    ax.major_tick_in = 5
    ax.major_tick_out = 0
    ax.minor_tick_in = 3
    ax.minor_tick_out = 0
    ax.major_label_text_font = FONT
    ax.major_label_text_font_size = "12px"
    ax.major_label_text_color = "#222222"
    ax.major_label_standoff = 2
    ax.axis_label_text_font = FONT
    ax.axis_label_text_font_size = "15px"
    ax.axis_label_text_font_style = "bold"
    ax.axis_label_text_color = "#111111"
    ax.axis_label_standoff = 9


def panel(name, unit, blue, orange, lo, hi, lum_k, height, bottom,
          blue_bars=(), orange_bars=()):
    p = figure(width=MAIN_WIDTH, height=height, x_range=Range1d(*YEAR_RANGE),
               y_range=Range1d(lo, hi), y_axis_type="log",
               output_backend="svg", toolbar_location=None,
               min_border_left=76, min_border_right=35,
               min_border_top=BORDER_TOP, min_border_bottom=bottom)
    p.grid.visible = False
    p.outline_line_color = FRAME
    p.background_fill_color = "white"
    p.border_fill_color = "white"

    p.title.text = name
    p.title.align = "center"
    p.title.text_font = FONT
    p.title.text_font_size = "13px"
    p.title.text_font_style = "bold"
    p.title.standoff = 3
    p.title.offset = 0

    # bottom axis: years
    xa = p.xaxis[0]
    xa.ticker = FixedTicker(ticks=YEAR_TICKS, minor_ticks=[])
    xa.axis_label = "Time [years]"
    xa.axis_line_color = FRAME
    xa.major_tick_line_color = FRAME
    xa.major_tick_in = 5
    xa.major_tick_out = 0
    xa.minor_tick_line_color = None
    xa.major_label_text_font = FONT
    xa.major_label_text_font_size = "12px"
    xa.major_label_text_color = "#222222"
    xa.major_label_standoff = 3
    xa.axis_label_text_font = FONT
    xa.axis_label_text_font_size = "13px"
    xa.axis_label_text_font_style = "bold"
    xa.axis_label_standoff = 2

    # left axis: flux
    ya = p.yaxis[0]
    ya.ticker = FixedTicker(ticks=decade_ticks(lo, hi), minor_ticks=minor_ticks(lo, hi))
    ya.formatter = CustomJSTickFormatter(code=SUP_FORMATTER)
    ya.axis_label = LEFT_LABEL
    style_y_axis(ya)

    # right axis: luminosity
    llo, lhi = lo * lum_k, hi * lum_k
    p.extra_y_ranges = {"lum": Range1d(llo, lhi)}
    p.extra_y_scales = {"lum": LogScale()}
    ra = LogAxis(y_range_name="lum",
                 ticker=FixedTicker(ticks=decade_ticks(llo, lhi), minor_ticks=minor_ticks(llo, lhi)),
                 formatter=CustomJSTickFormatter(code=SUP_FORMATTER))
    style_y_axis(ra)
    p.add_layout(ra, "right")

    # inward tick marks along the top edge
    p.ray(x=YEAR_TICKS, y=[hi * 0.9999] * len(YEAR_TICKS), length=5,
          length_units="screen", angle=-math.pi / 2, line_color=FRAME, line_width=1)

    ot, of = expand(orange, unit)
    bt, bf = expand(blue, unit)

    if orange_bars:
        p.segment(x0=[b[0] for b in orange_bars], y0=[b[1] * unit for b in orange_bars],
                  x1=[b[0] for b in orange_bars], y1=[b[2] * unit for b in orange_bars],
                  line_color=ORANGE, line_width=1.2)
    p.scatter(x="t", y="f", source=ColumnDataSource(dict(t=ot, f=of)),
              size=6, fill_color=ORANGE, line_color=ORANGE, line_width=0.5)
    if blue_bars:
        p.segment(x0=[b[0] for b in blue_bars], y0=[b[1] * unit for b in blue_bars],
                  x1=[b[0] for b in blue_bars], y1=[b[2] * unit for b in blue_bars],
                  line_color=BLUE, line_width=1.2)
    p.scatter(x="t", y="f", source=ColumnDataSource(dict(t=bt, f=bf)),
              size=5.5, fill_color=BLUE, line_color="black", line_width=0.7)

    # luminosity axis title, reading bottom-to-top, in a narrow strip on the right
    side = figure(width=SIDE_WIDTH, height=height, x_range=Range1d(0, SIDE_WIDTH),
                  y_range=Range1d(0, height), output_backend="svg",
                  toolbar_location=None, x_axis_location=None, y_axis_location=None,
                  min_border=0, min_border_left=0, min_border_right=0,
                  min_border_top=0, min_border_bottom=0)
    side.grid.visible = False
    side.outline_line_color = None
    side.text(x=[14], y=[height - BORDER_TOP - FRAME_HEIGHT / 2], text=[RIGHT_LABEL],
              angle=math.pi / 2, text_align="center", text_baseline="middle",
              text_font=value(FONT), text_font_size=value("14px"),
              text_font_style="bold", text_color="#111111")
    return row(p, side, spacing=0)


r1 = panel("MRK 501", mrk501_unit, mrk501_blue, mrk501_orange,
           1.11e-11, 2.24e-10, 10 ** 53.73, 283, 52, orange_bars=mrk501_orange_bars)
r2 = panel("MKN 421", mkn421_unit, mkn421_blue, mkn421_orange,
           1.36e-11, 2.33e-9, 10 ** 54.31, 283, 52)
r3 = panel("PG 1553+113", pg1553_unit, pg1553_blue, pg1553_orange,
           2.64e-12, 7.71e-11, 10 ** 56.66, 283, 52,
           blue_bars=pg1553_blue_bars, orange_bars=pg1553_orange_bars)
r4 = panel("1ES 1959+650", es1959_unit, es1959_blue, es1959_orange,
           1.85e-11, 4.86e-10, 10 ** 54.71, 283, 52)
r5 = panel("PKS 2155-304", pks2155_unit, pks2155_blue, pks2155_orange,
           3.04e-12, 3.98e-10, 10 ** 55.527, 269, 38,
           blue_bars=pks2155_blue_bars, orange_bars=pks2155_orange_bars)

layout = column(r1, r2, r3, r4, r5, spacing=0)
open("out.html", "w").write(file_html(layout, INLINE))
